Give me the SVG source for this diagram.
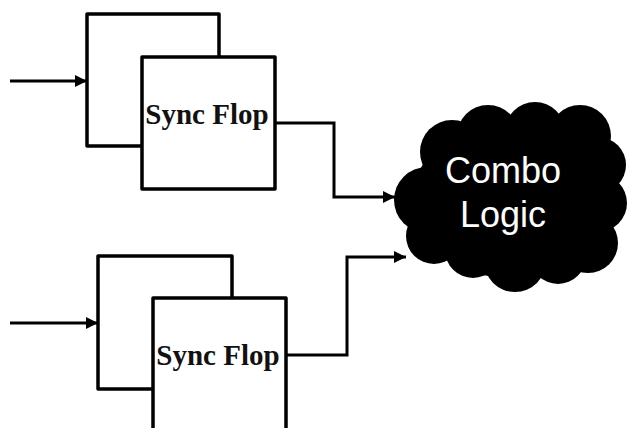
<svg xmlns="http://www.w3.org/2000/svg" width="627" height="428" viewBox="0 0 627 428">
<style>
.box{fill:#fff;stroke:#000;stroke-width:3.5;stroke-linejoin:round}
.wire{fill:none;stroke:#000;stroke-width:3}
.lbl{font-family:"Liberation Serif","Times New Roman",serif;font-weight:bold;font-size:29px;fill:#111;text-anchor:middle}
.cl{font-family:"Liberation Sans",Arial,sans-serif;font-size:36px;fill:#fff;text-anchor:middle}
</style>
<defs>
<marker id="ah" viewBox="0 0 10 10" refX="10" refY="5" markerWidth="4" markerHeight="4" orient="auto" markerUnits="strokeWidth">
<path d="M0,0 L10,5 L0,10 Z" fill="#000"/>
</marker>
</defs>
<rect width="627" height="428" fill="#fff"/>
<g id="flop1">
<rect class="box" x="87" y="14" width="132" height="132"/>
<rect class="box" x="142" y="57" width="133" height="132"/>
<text class="lbl" x="207" y="124">Sync Flop</text>
</g>
<g id="flop2">
<rect class="box" x="98" y="256" width="134" height="133"/>
<rect class="box" x="153" y="298" width="133" height="140"/>
<text class="lbl" x="218" y="365">Sync Flop</text>
</g>
<g id="combo">
<g fill="#000">
<ellipse cx="510" cy="200" rx="98" ry="78"/>
<circle cx="427" cy="200" r="33"/>
<circle cx="452" cy="152" r="32"/>
<circle cx="488" cy="136" r="31"/>
<circle cx="535" cy="132" r="30"/>
<circle cx="580" cy="136" r="31"/>
<circle cx="598" cy="165" r="28"/>
<circle cx="598" cy="203" r="29"/>
<circle cx="588" cy="243" r="30"/>
<circle cx="558" cy="256" r="28"/>
<circle cx="515" cy="261" r="31"/>
<circle cx="473" cy="250" r="28"/>
<circle cx="434" cy="236" r="28"/>
</g>
<text class="cl" x="503" y="183">Combo</text>
<text class="cl" x="503" y="227">Logic</text>
</g>
<g id="connectors">
<path class="wire" d="M10,81 H87" marker-end="url(#ah)"/>
<path class="wire" d="M10,323 H98" marker-end="url(#ah)"/>
<path class="wire" d="M275,123 H334 V197 H395" marker-end="url(#ah)"/>
<path class="wire" d="M286,355 H347 V257 H406" marker-end="url(#ah)"/>
</g>
</svg>
